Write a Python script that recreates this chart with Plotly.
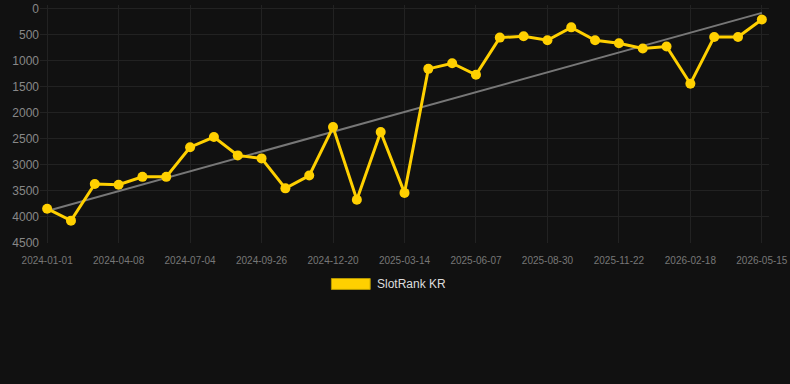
import numpy as np
import plotly.graph_objects as go

dates = [
    "2024-01-01", "2024-02-03", "2024-03-06", "2024-04-08", "2024-05-07", "2024-06-05",
    "2024-07-04", "2024-08-01", "2024-08-29", "2024-09-26", "2024-10-24", "2024-11-22",
    "2024-12-20", "2025-01-17", "2025-02-14", "2025-03-14", "2025-04-11", "2025-05-10",
    "2025-06-07", "2025-07-05", "2025-08-02", "2025-08-30", "2025-09-27", "2025-10-25",
    "2025-11-22", "2025-12-21", "2026-01-19", "2026-02-18", "2026-03-17", "2026-04-15",
    "2026-05-15",
]
rank = [
    3840, 4070, 3366, 3380, 3228, 3228, 2658, 2462, 2816, 2873, 3449, 3203, 2272, 3670,
    2367, 3537, 1152, 1044, 1266, 551, 525, 601, 354, 601, 658, 760, 722, 1437, 538, 538, 202,
]
y_ticks = [0, 500, 1000, 1500, 2000, 2500, 3000, 3500, 4000, 4500]
series_name = "SlotRank KR"

idx = np.arange(len(rank))
slope, intercept = np.polyfit(idx, rank, 1)
trend = (slope * idx + intercept).tolist()

GOLD = "#FFD000"
L, R, T, B = 40, 17, 2, 141
W, H = 790, 384
pw, ph = W - L - R, H - T - B

fig = go.Figure()
fig.add_trace(go.Scatter(x=dates, y=trend, mode="lines",
                         line=dict(color="#777777", width=2), hoverinfo="skip", showlegend=False))
fig.add_trace(go.Scatter(x=dates, y=rank, mode="lines+markers", name=series_name,
                         line=dict(color=GOLD, width=3), marker=dict(color=GOLD, size=10),
                         showlegend=False))

# manual legend
px_x = lambda p: (p - L) / pw
px_y = lambda p: -(p - (H - B)) / ph
fig.add_shape(type="rect", xref="paper", yref="paper", x0=px_x(333), x1=px_x(372),
              y0=px_y(279), y1=px_y(290),
              fillcolor=GOLD, line=dict(color="#b89a00", width=1))
fig.add_annotation(text=series_name, xref="paper", yref="paper", x=px_x(377), y=px_y(284.5),
                   xanchor="left", yanchor="middle", showarrow=False,
                   font=dict(size=12, color="#dddddd"))

fig.update_layout(
    width=W, height=H,
    paper_bgcolor="#111111", plot_bgcolor="#111111",
    margin=dict(l=L, r=R, t=T, b=B),
    font=dict(family="Liberation Sans, Arial, sans-serif"),
    showlegend=False,
)
fig.update_xaxes(type="category", range=[-0.3, len(dates) - 0.7],
                 tickvals=dates[::3], ticktext=dates[::3],
                 tickfont=dict(size=10, color="#777777"),
                 showgrid=True, gridcolor="#222222", gridwidth=1,
                 showline=False, zeroline=False, ticks="", ticklabelstandoff=10)
fig.update_yaxes(range=[4500, -76], tickvals=y_ticks,
                 tickfont=dict(size=12, color="#888888"), ticklabeloverflow="allow",
                 showgrid=True, gridcolor="#222222", gridwidth=1,
                 zeroline=False, showline=False, ticks="")

fig.write_html("out.html")
